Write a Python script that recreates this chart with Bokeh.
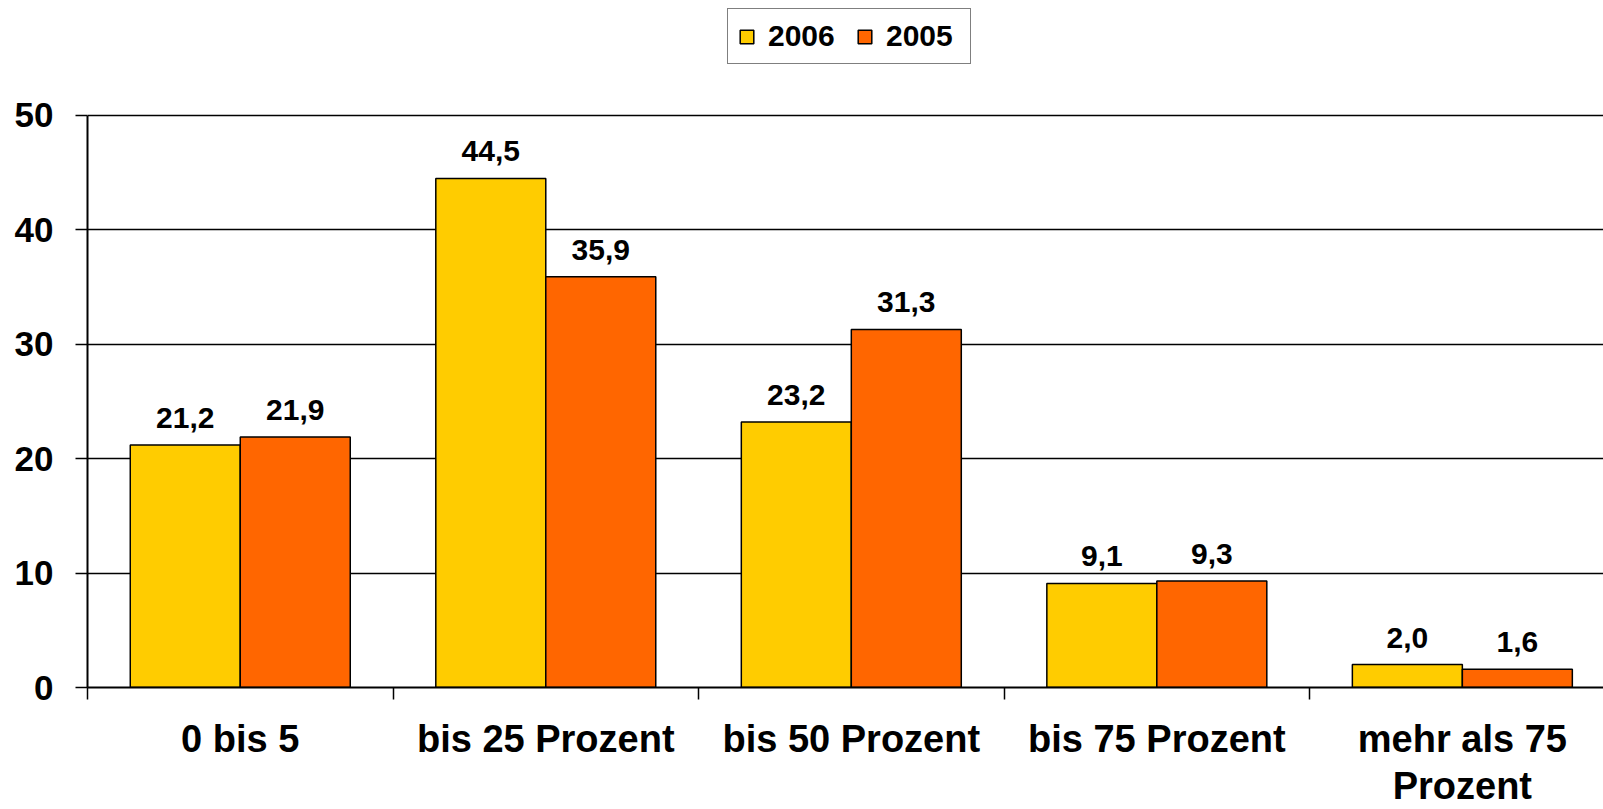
from bokeh.plotting import figure
from bokeh.models import ColumnDataSource, FixedTicker, Legend, LegendItem, Range1d
from bokeh.core.properties import value
from bokeh.embed import file_html
from bokeh.resources import INLINE

categories = ["0 bis 5", "bis 25 Prozent", "bis 50 Prozent", "bis 75 Prozent", "mehr als 75\nProzent"]
values_2006 = [21.2, 44.5, 23.2, 9.1, 2.0]
values_2005 = [21.9, 35.9, 31.3, 9.3, 1.6]
series_names = ["2006", "2005"]
y_ticks = [0, 10, 20, 30, 40, 50]

FONT = "Liberation Sans"
C2006 = "#FFCC00"
C2005 = "#FF6600"

centers = [i + 0.5 for i in range(len(categories))]
fmt = lambda v: f"{v:.1f}".replace(".", ",")

src06 = ColumnDataSource(dict(x=[c - 0.18 for c in centers], top=values_2006,
                              lab=[fmt(v) for v in values_2006]))
src05 = ColumnDataSource(dict(x=[c + 0.18 for c in centers], top=values_2005,
                              lab=[fmt(v) for v in values_2005]))

# frame spans the full height above the x axis; the value axis itself is bounded to 0..50,
# the space above 50 holds the legend
p = figure(width=1603, height=809, output_backend="svg", toolbar_location=None,
           x_range=Range1d(0, 4.962), y_range=Range1d(0, 60.05))
p.min_border_left = 87
p.min_border_right = 0
p.min_border_top = 0
p.min_border_bottom = 122
p.outline_line_color = None
p.background_fill_color = "white"
p.border_fill_color = "white"

r1 = p.vbar(x="x", top="top", width=0.36, source=src06, fill_color=C2006,
            line_color="black", line_width=1.5)
r2 = p.vbar(x="x", top="top", width=0.36, source=src05, fill_color=C2005,
            line_color="black", line_width=1.5)

for s in (src06, src05):
    p.text(x="x", y="top", text="lab", source=s, text_font=value(FONT),
           text_font_style="bold", text_font_size="30px", text_align="center",
           text_baseline="middle", y_offset=-27, text_color="black")

# x axis: category names at centres, tick marks at category boundaries
p.xaxis.ticker = FixedTicker(ticks=centers, minor_ticks=list(range(len(categories) + 1)))
p.xaxis.major_label_overrides = {c: lab for c, lab in zip(centers, categories)}
p.xaxis.major_tick_out = 0
p.xaxis.major_tick_in = 0
p.xaxis.minor_tick_out = 12
p.xaxis.minor_tick_in = 0
p.xaxis.minor_tick_line_color = "black"
p.xaxis.minor_tick_line_width = 1.5
p.xaxis.axis_line_color = "black"
p.xaxis.axis_line_width = 2
p.xaxis.major_label_text_font = FONT
p.xaxis.major_label_text_font_style = "bold"
p.xaxis.major_label_text_font_size = "38px"
p.xaxis.major_label_text_color = "black"
p.xaxis.major_label_text_line_height = 1.12
p.xaxis.major_label_standoff = 18

p.yaxis.ticker = FixedTicker(ticks=y_ticks)
p.yaxis.bounds = (0, 50)
p.yaxis.major_tick_out = 12
p.yaxis.major_tick_in = 0
p.yaxis.major_tick_line_width = 1.5
p.yaxis.major_tick_line_color = "black"
p.yaxis.minor_tick_line_color = None
p.yaxis.axis_line_color = "black"
p.yaxis.axis_line_width = 2
p.yaxis.major_label_text_font = FONT
p.yaxis.major_label_text_font_style = "bold"
p.yaxis.major_label_text_font_size = "35px"
p.yaxis.major_label_text_color = "black"
p.yaxis.major_label_standoff = 22

p.xgrid.grid_line_color = None
p.ygrid.ticker = FixedTicker(ticks=y_ticks[1:])
p.ygrid.grid_line_color = "black"
p.ygrid.grid_line_width = 1.5

legend = Legend(items=[LegendItem(label=series_names[0], renderers=[r1]),
                       LegendItem(label=series_names[1], renderers=[r2])],
                orientation="horizontal", location=(640, 623),
                border_line_color="black", border_line_width=1.5,
                background_fill_color="white", background_fill_alpha=1,
                label_text_font=FONT, label_text_font_style="bold",
                label_text_font_size="30px", label_text_color="black",
                glyph_width=17, glyph_height=17, label_standoff=13,
                label_width=74, spacing=14, padding=10, margin=0, label_height=30)
p.add_layout(legend, "center")

open("out.html", "w").write(file_html(p, INLINE))
